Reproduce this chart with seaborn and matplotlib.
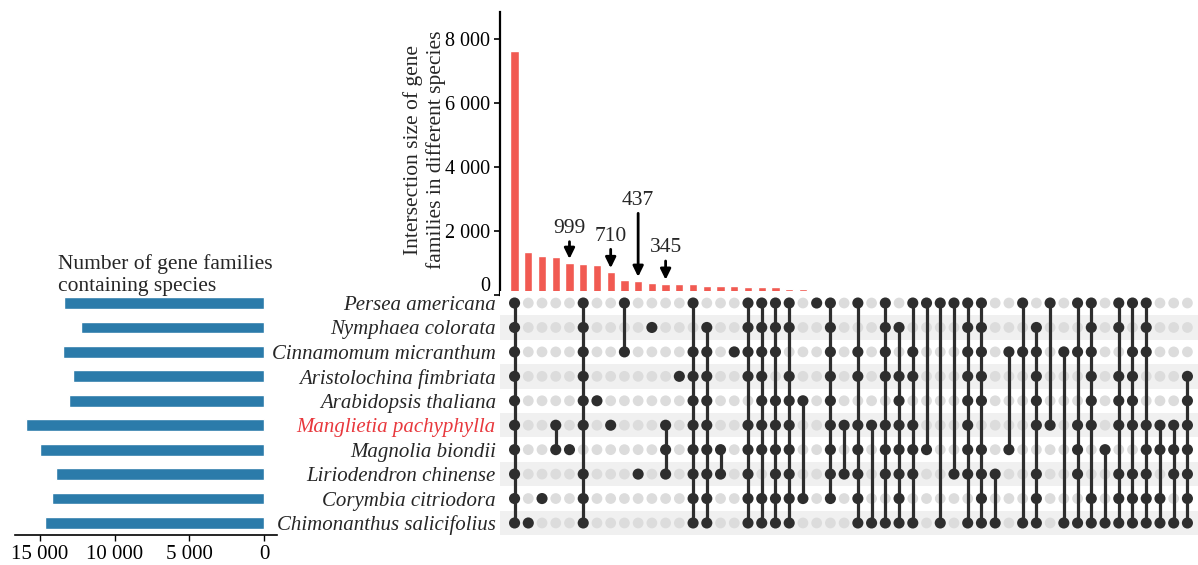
import matplotlib
matplotlib.use("Agg")
import matplotlib.pyplot as plt
import matplotlib.transforms as mtransforms
import numpy as np
import pandas as pd
import seaborn as sns
from matplotlib.ticker import FuncFormatter, FixedLocator

# ---------------- data ----------------
species = ["Persea americana", "Nymphaea colorata", "Cinnamomum micranthum",
           "Aristolochina fimbriata", "Arabidopsis thaliana", "Manglietia pachyphylla",
           "Magnolia biondii", "Liriodendron chinense", "Corymbia citriodora",
           "Chimonanthus salicifolius"]
set_sizes = [13370, 12230, 13430, 12800, 13030, 15930, 14970, 13920, 14170, 14680]
highlight_species = "Manglietia pachyphylla"

ALL = list(range(10))
def all_but(i):
    return [k for k in ALL if k != i]

# membership (species row indices) of each intersection column
intersections = [
    ALL, [9], [8], [5, 6], [6], all_but(6), [4], [5], [0, 2], [7],
    [1], [5, 6, 7], [3], all_but(1), all_but(0), [6, 7], [2], all_but(4), all_but(7), all_but(3),
    all_but(2), [4, 8], [0], all_but(9), [5, 7], [0, 2, 3, 5, 6, 7, 8, 9], [5, 9],
    [0, 1, 2, 3, 5, 6, 7, 9], [1, 3, 4, 5, 6, 7, 8, 9], [0, 2, 3, 5, 6, 7, 9],
    [0, 6], [0, 9], [0, 7], all_but(8), all_but(5), [7, 9], [2, 6], [0, 2, 9],
    [1, 2, 3, 4, 5, 7, 8, 9], [0, 5], [2, 9], [0, 2, 5, 6, 7, 9],
    [0, 1, 2, 3, 4, 5, 8, 9], [6, 9], [0, 1, 3, 4, 5, 7, 8, 9], [0, 2, 3, 4, 5, 7, 8, 9],
    [0, 1, 2, 5, 6, 7, 8, 9], [5, 6, 8, 9], [5, 6, 7, 9], [3, 4, 5, 6, 7, 8, 9],
]
intersection_sizes = [7640, 1350, 1210, 1180, 999, 985, 930, 710, 475, 437,
                      375, 345, 332, 330, 290, 280, 278, 259, 240, 238,
                      187, 185, 140, 135, 120, 115, 110, 105, 100, 95,
                      92, 88, 85, 80, 76, 72, 68, 65, 62, 58,
                      55, 52, 48, 45, 42, 38, 35, 32, 28, 25]
annot_cols = [4, 7, 9, 11]
annot_labels = ["999", "710", "437", "345"]
annot_arrow_len = [540, 590, 1990, 590]

y_ticks = [0, 2000, 4000, 6000, 8000]
x_ticks_left = [15000, 10000, 5000, 0]

# ---------------- style ----------------
sns.set_style("white")
plt.rcParams["font.family"] = ["Liberation Serif", "DejaVu Serif"]
plt.rcParams["font.size"] = 14

RED = "#F15A52"
BLUE = "#2B7BAA"
DARK = "#2E2E2E"
GREY_DOT = "#DCDCDC"
STRIPE = "#F0F0F0"

W, H = 1198, 565
fig = plt.figure(figsize=(W / 100, H / 100), dpi=100)

def ax_px(left, top, right, bottom, **kw):
    return fig.add_axes([left / W, 1 - bottom / H, (right - left) / W, (bottom - top) / H], **kw)

def thousands(v, p):
    return f"{int(v):,}".replace(",", " ")

n_cols = len(intersection_sizes)
xlim = (-1.06, 49.77)

# ---------------- intersection bars ----------------
ax_bar = ax_px(500, 11.7, 1198, 295)
bar_df = pd.DataFrame({"col": np.arange(n_cols), "size": intersection_sizes})
sns.barplot(data=bar_df, x="col", y="size", color=RED, width=0.6, saturation=1,
            ax=ax_bar, zorder=2)
ax_bar.set_xlim(*xlim)
ax_bar.set_ylim(0, 8870)
ax_bar.set_xticks([])
ax_bar.set_xlabel("")
ax_bar.yaxis.set_major_locator(FixedLocator(y_ticks))
ax_bar.yaxis.set_major_formatter(FuncFormatter(thousands))
ax_bar.set_ylabel("Intersection size of gene\nfamilies in different species", fontsize=15.5,
                  linespacing=1.2)
ax_bar.yaxis.set_label_coords((446 - 500) / 698, (295 - 150) / 283.3)
for s in ["top", "right", "bottom"]:
    ax_bar.spines[s].set_visible(False)
ax_bar.spines["left"].set_linewidth(1.6)
ax_bar.spines["left"].set_color("black")
ax_bar.tick_params(axis="y", direction="out", length=4, width=1.2, labelsize=14.5, pad=3,
                   left=True, colors="black")
fig.canvas.draw()
zero_lbl = ax_bar.get_yticklabels()[0]
zero_lbl.set_transform(zero_lbl.get_transform() +
                       mtransforms.ScaledTranslation(0, 11 / 100, fig.dpi_scale_trans))

for c, lab, L in zip(annot_cols, annot_labels, annot_arrow_len):
    v = intersection_sizes[c]
    tip = v + 130
    start = tip + L
    ax_bar.annotate("", xy=(c, tip), xytext=(c, start),
                    arrowprops=dict(arrowstyle="-|>,head_length=0.45,head_width=0.22",
                                    color="black", lw=2, shrinkA=0, shrinkB=0))
    ax_bar.text(c, start + 110, lab, ha="center", va="bottom", fontsize=15.5)

# ---------------- matrix ----------------
ax_m = ax_px(500, 290.8, 1198, 535.2)
ax_m.set_zorder(3)
ax_m.set_facecolor("white")
for r in range(len(species)):
    if r % 2 == 1:
        ax_m.axhspan(r - 0.5, r + 0.5, color=STRIPE, zorder=0, lw=0)

rows = []
for c, members in enumerate(intersections):
    for r in range(len(species)):
        rows.append({"col": c, "row": r, "member": r in members})
mdf = pd.DataFrame(rows)

sns.scatterplot(data=mdf[~mdf.member], x="col", y="row", color=GREY_DOT, s=60,
                edgecolor="none", ax=ax_m, zorder=1, legend=False)
for c, members in enumerate(intersections):
    if len(members) > 1:
        ax_m.vlines(c, min(members), max(members), color=DARK, lw=2.3, zorder=2)
sns.scatterplot(data=mdf[mdf.member], x="col", y="row", color=DARK, s=64,
                edgecolor="none", ax=ax_m, zorder=3, legend=False)
ax_m.set_xlim(*xlim)
ax_m.set_ylim(len(species) - 0.5, -0.5)
ax_m.set_xticks([])
ax_m.set_xlabel("")
ax_m.set_ylabel("")
ax_m.set_yticks(range(len(species)))
ax_m.set_yticklabels(species, fontstyle="italic", fontsize=15)
for lbl in ax_m.get_yticklabels():
    if lbl.get_text() == highlight_species:
        lbl.set_color("#E8383D")
ax_m.tick_params(axis="y", length=0, pad=3)
for s in ax_m.spines.values():
    s.set_visible(False)

# ---------------- set sizes ----------------
ax_s = ax_px(15, 290.8, 277, 535.2)
sdf = pd.DataFrame({"species": species, "size": set_sizes})
sns.barplot(data=sdf, y="species", x="size", order=species, color=BLUE, width=0.48,
            saturation=1, orient="h", ax=ax_s)
ax_s.set_ylim(len(species) - 0.5, -0.5)
ax_s.set_xlim(16656, -870)
ax_s.set_yticks([])
ax_s.set_ylabel("")
ax_s.set_xlabel("")
ax_s.xaxis.set_major_locator(FixedLocator(x_ticks_left))
ax_s.xaxis.set_major_formatter(FuncFormatter(thousands))
ax_s.tick_params(axis="x", direction="out", length=4, width=1.0, labelsize=15, pad=3,
                 bottom=True, colors="black")
for s in ["top", "right", "left"]:
    ax_s.spines[s].set_visible(False)
ax_s.spines["bottom"].set_linewidth(1.2)
ax_s.spines["bottom"].set_color("black")
ax_s.set_title("Number of gene families\ncontaining species", fontsize=15.5, loc="left",
               x=(58 - 15) / 262, pad=0, linespacing=1.2)

fig.savefig("out.png", dpi=100)
